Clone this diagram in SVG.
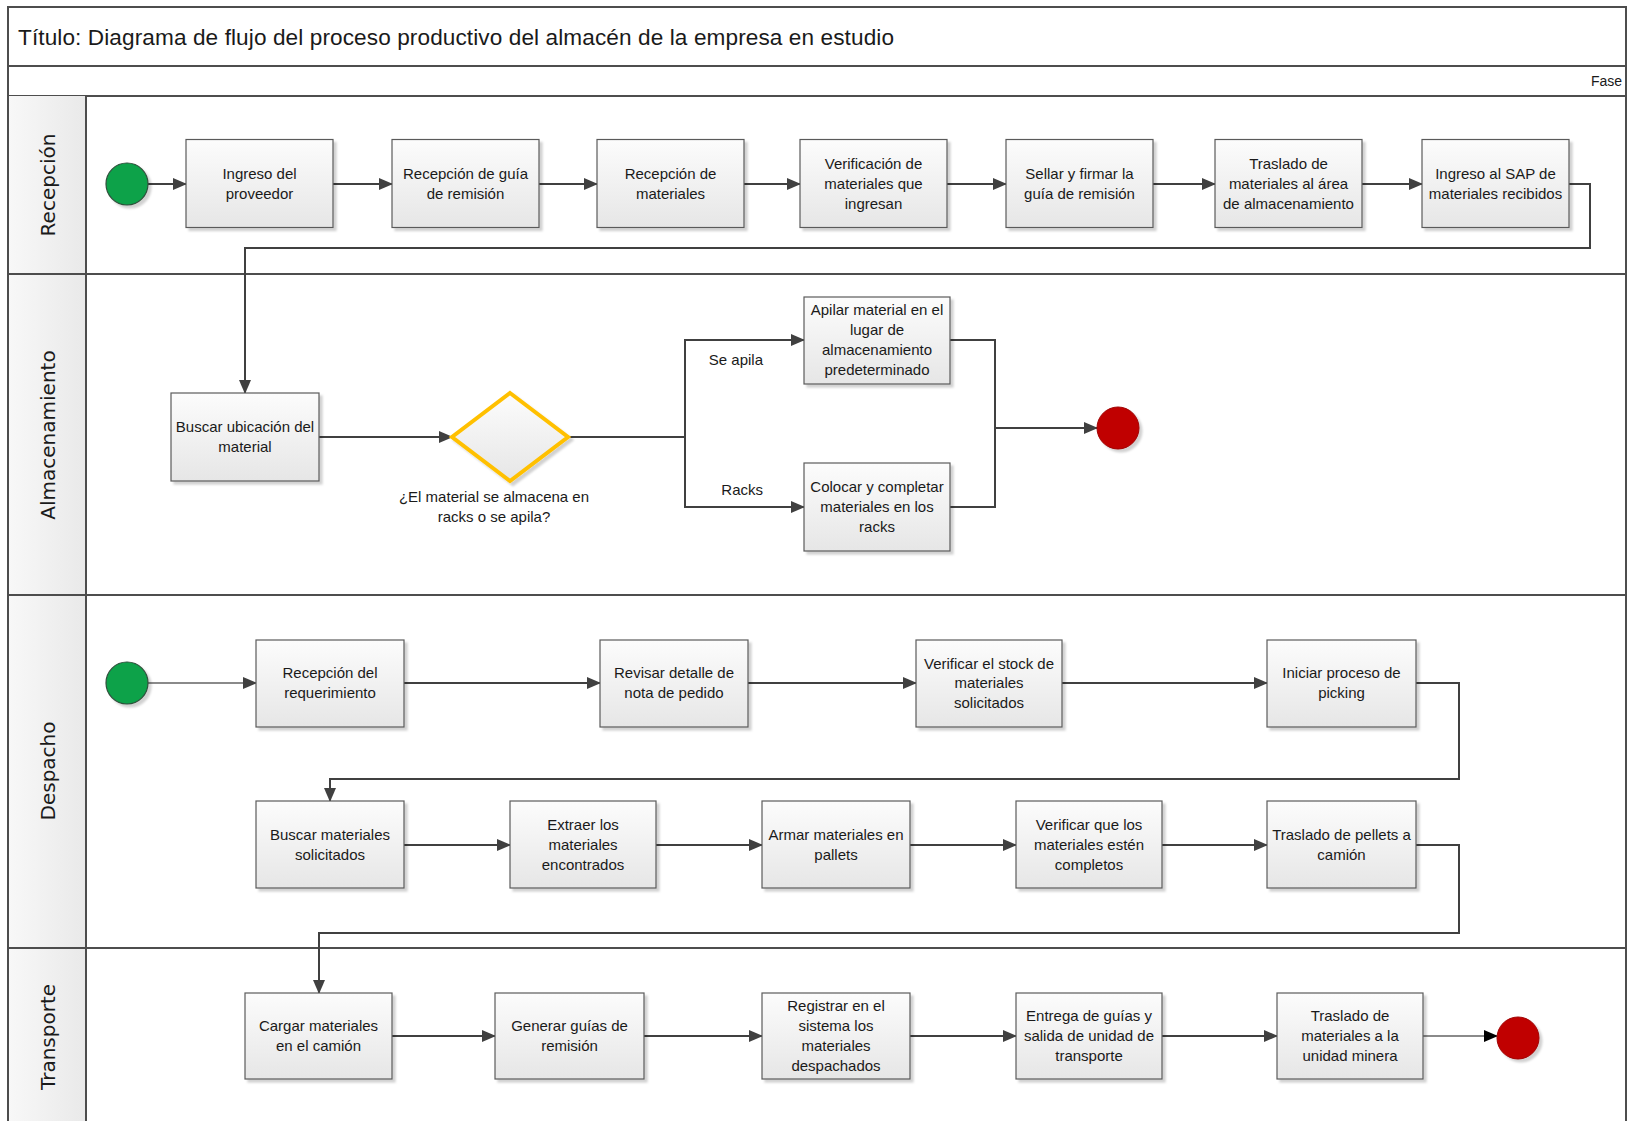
<svg xmlns="http://www.w3.org/2000/svg" width="1631" height="1121" viewBox="0 0 1631 1121">
<style>
.frame{fill:none;stroke:#4d4d4d;stroke-width:2}
.sep{stroke:#4d4d4d;stroke-width:2}
.box{fill:url(#gBox);stroke:#5a5a5a;stroke-width:1.2;filter:url(#sh)}
.t{font-family:"Liberation Sans",Arial,sans-serif;font-size:15px;fill:#1a1a1a;text-anchor:middle}
.lane{font-family:"DejaVu Sans",Verdana,sans-serif;font-size:20px;fill:#1a1a1a;text-anchor:middle}
.title{font-family:"Liberation Sans",Arial,sans-serif;font-size:22.6px;fill:#1a1a1a}
.c{fill:none;stroke:#404040;stroke-width:2}
.cl{fill:none;stroke:#8a8a8a;stroke-width:2}
</style>
<defs>
<linearGradient id="gBox" x1="0" y1="0" x2="0" y2="1"><stop offset="0" stop-color="#fcfcfc"/><stop offset="1" stop-color="#e6e6e6"/></linearGradient>
<linearGradient id="gBar" x1="0" y1="0" x2="0" y2="1"><stop offset="0" stop-color="#f9f9f9"/><stop offset="1" stop-color="#e9e9e9"/></linearGradient>
<linearGradient id="gHead" x1="0" y1="0" x2="1" y2="0"><stop offset="0" stop-color="#f8f8f8"/><stop offset="1" stop-color="#e9e9e9"/></linearGradient>
<filter id="sh" x="-10%" y="-10%" width="130%" height="130%"><feDropShadow dx="3" dy="3" stdDeviation="1.2" flood-color="#000" flood-opacity="0.18"/></filter>
<marker id="ar" markerUnits="userSpaceOnUse" markerWidth="14" markerHeight="12" refX="13" refY="6" orient="auto"><path d="M0,0 L14,6 L0,12 z" fill="#404040"/></marker>
<marker id="arb" markerUnits="userSpaceOnUse" markerWidth="14" markerHeight="12" refX="13" refY="6" orient="auto"><path d="M0,0 L14,6 L0,12 z" fill="#000"/></marker>
</defs>

<g id="frame">
<rect x="8" y="7" width="1618" height="59" fill="url(#gBar)" class="frame"/>
<rect x="8" y="66" width="1618" height="30" fill="url(#gBar)" class="frame"/>
<rect x="8" y="96" width="78" height="1030" fill="url(#gHead)"/>
<line x1="8" y1="7" x2="8" y2="1121" class="sep"/>
<line x1="1626" y1="7" x2="1626" y2="1121" class="sep"/>
<line x1="86" y1="96" x2="86" y2="1121" class="sep"/>
<line x1="8" y1="274" x2="1626" y2="274" class="sep"/>
<line x1="8" y1="595" x2="1626" y2="595" class="sep"/>
<line x1="8" y1="948" x2="1626" y2="948" class="sep"/>
<text x="18" y="45" class="title" textLength="876" lengthAdjust="spacing">Título: Diagrama de flujo del proceso productivo del almacén de la empresa en estudio</text>
<text x="1622" y="86" class="t" style="text-anchor:end;font-size:14px">Fase</text>
<text transform="translate(55,185) rotate(-90)" class="lane">Recepción</text>
<text transform="translate(55,435) rotate(-90)" class="lane">Almacenamiento</text>
<text transform="translate(55,771) rotate(-90)" class="lane">Despacho</text>
<text transform="translate(55,1037) rotate(-90)" class="lane">Transporte</text>
</g>

<g id="connectors">
<path class="c" marker-end="url(#ar)" d="M148,184 H186"/>
<path class="c" marker-end="url(#ar)" d="M333,184 H392"/>
<path class="c" marker-end="url(#ar)" d="M539,184 H597"/>
<path class="c" marker-end="url(#ar)" d="M744,184 H800"/>
<path class="c" marker-end="url(#ar)" d="M947,184 H1006"/>
<path class="c" marker-end="url(#ar)" d="M1153,184 H1215"/>
<path class="c" marker-end="url(#ar)" d="M1362,184 H1422"/>
<path class="c" marker-end="url(#ar)" d="M1569,184 H1590 V248 H245 V393"/>
<path class="c" marker-end="url(#ar)" d="M319,437 H452"/>
<path class="c" d="M568,437 H685"/>
<path class="c" marker-end="url(#ar)" d="M685,437 V340 H804"/>
<path class="c" marker-end="url(#ar)" d="M685,437 V507 H804"/>
<path class="c" d="M950,340 H995 V507 H950"/>
<path class="c" marker-end="url(#ar)" d="M995,428 H1097"/>
<path class="cl" marker-end="url(#ar)" d="M148,683 H256"/>
<path class="c" marker-end="url(#ar)" d="M404,683 H600"/>
<path class="c" marker-end="url(#ar)" d="M748,683 H916"/>
<path class="c" marker-end="url(#ar)" d="M1062,683 H1267"/>
<path class="c" marker-end="url(#ar)" d="M1416,683 H1459 V779 H330 V801"/>
<path class="c" marker-end="url(#ar)" d="M404,845 H510"/>
<path class="c" marker-end="url(#ar)" d="M656,845 H762"/>
<path class="c" marker-end="url(#ar)" d="M910,845 H1016"/>
<path class="c" marker-end="url(#ar)" d="M1162,845 H1267"/>
<path class="c" marker-end="url(#ar)" d="M1416,845 H1459 V933 H319 V993"/>
<path class="c" marker-end="url(#ar)" d="M392,1036 H495"/>
<path class="c" marker-end="url(#ar)" d="M644,1036 H762"/>
<path class="c" marker-end="url(#ar)" d="M910,1036 H1016"/>
<path class="c" marker-end="url(#ar)" d="M1162,1036 H1277"/>
<path class="cl" marker-end="url(#arb)" d="M1423,1036 H1497"/>
<text x="763" y="365" class="t" style="text-anchor:end">Se apila</text>
<text x="763" y="495" class="t" style="text-anchor:end">Racks</text>
</g>

<g id="start1"><circle cx="127" cy="184" r="21" fill="#07a24a" stroke="#2f4f3a" stroke-width="1.2" filter="url(#sh)"/></g>
<g id="n1"><rect class="box" x="186" y="139.5" width="147" height="88"/><text class="t" x="259.5" y="179">Ingreso del</text><text class="t" x="259.5" y="199">proveedor</text></g>
<g id="n2"><rect class="box" x="392" y="139.5" width="147" height="88"/><text class="t" x="465.5" y="179">Recepción de guía</text><text class="t" x="465.5" y="199">de remisión</text></g>
<g id="n3"><rect class="box" x="597" y="139.5" width="147" height="88"/><text class="t" x="670.5" y="179">Recepción de</text><text class="t" x="670.5" y="199">materiales</text></g>
<g id="n4"><rect class="box" x="800" y="139.5" width="147" height="88"/><text class="t" x="873.5" y="169">Verificación de</text><text class="t" x="873.5" y="189">materiales que</text><text class="t" x="873.5" y="209">ingresan</text></g>
<g id="n5"><rect class="box" x="1006" y="139.5" width="147" height="88"/><text class="t" x="1079.5" y="179">Sellar y firmar la</text><text class="t" x="1079.5" y="199">guía de remisión</text></g>
<g id="n6"><rect class="box" x="1215" y="139.5" width="147" height="88"/><text class="t" x="1288.5" y="169">Traslado de</text><text class="t" x="1288.5" y="189">materiales al área</text><text class="t" x="1288.5" y="209">de almacenamiento</text></g>
<g id="n7"><rect class="box" x="1422" y="139.5" width="147" height="88"/><text class="t" x="1495.5" y="179">Ingreso al SAP de</text><text class="t" x="1495.5" y="199">materiales recibidos</text></g>

<g id="a1"><rect class="box" x="171" y="393" width="148" height="88"/><text class="t" x="245" y="432">Buscar ubicación del</text><text class="t" x="245" y="452">material</text></g>
<g id="d1"><polygon points="510,393 568,437 510,481 452,437" fill="url(#gBox)" stroke="#ffc000" stroke-width="4" stroke-linejoin="miter" filter="url(#sh)"/><text class="t" x="494" y="502">¿El material se almacena en</text><text class="t" x="494" y="522">racks o se apila?</text></g>
<g id="a2"><rect class="box" x="804" y="297" width="146" height="87"/><text class="t" x="877" y="315">Apilar material en el</text><text class="t" x="877" y="335">lugar de</text><text class="t" x="877" y="355">almacenamiento</text><text class="t" x="877" y="375">predeterminado</text></g>
<g id="a3"><rect class="box" x="804" y="463" width="146" height="88"/><text class="t" x="877" y="492">Colocar y completar</text><text class="t" x="877" y="512">materiales en los</text><text class="t" x="877" y="532">racks</text></g>
<g id="end1"><circle cx="1118" cy="428" r="21" fill="#c00000" stroke="#a00000" stroke-width="1" filter="url(#sh)"/></g>

<g id="start2"><circle cx="127" cy="683" r="21" fill="#07a24a" stroke="#2f4f3a" stroke-width="1.2" filter="url(#sh)"/></g>
<g id="b1"><rect class="box" x="256" y="640" width="148" height="87"/><text class="t" x="330" y="678">Recepción del</text><text class="t" x="330" y="698">requerimiento</text></g>
<g id="b2"><rect class="box" x="600" y="640" width="148" height="87"/><text class="t" x="674" y="678">Revisar detalle de</text><text class="t" x="674" y="698">nota de pedido</text></g>
<g id="b3"><rect class="box" x="916" y="640" width="146" height="87"/><text class="t" x="989" y="669">Verificar el stock de</text><text class="t" x="989" y="688">materiales</text><text class="t" x="989" y="708">solicitados</text></g>
<g id="b4"><rect class="box" x="1267" y="640" width="149" height="87"/><text class="t" x="1341.5" y="678">Iniciar proceso de</text><text class="t" x="1341.5" y="698">picking</text></g>
<g id="b5"><rect class="box" x="256" y="801" width="148" height="87"/><text class="t" x="330" y="840">Buscar materiales</text><text class="t" x="330" y="860">solicitados</text></g>
<g id="b6"><rect class="box" x="510" y="801" width="146" height="87"/><text class="t" x="583" y="830">Extraer los</text><text class="t" x="583" y="850">materiales</text><text class="t" x="583" y="870">encontrados</text></g>
<g id="b7"><rect class="box" x="762" y="801" width="148" height="87"/><text class="t" x="836" y="840">Armar materiales en</text><text class="t" x="836" y="860">pallets</text></g>
<g id="b8"><rect class="box" x="1016" y="801" width="146" height="87"/><text class="t" x="1089" y="830">Verificar que los</text><text class="t" x="1089" y="850">materiales estén</text><text class="t" x="1089" y="870">completos</text></g>
<g id="b9"><rect class="box" x="1267" y="801" width="149" height="87"/><text class="t" x="1341.5" y="840">Traslado de pellets a</text><text class="t" x="1341.5" y="860">camión</text></g>

<g id="c1"><rect class="box" x="245" y="993" width="147" height="86"/><text class="t" x="318.5" y="1031">Cargar materiales</text><text class="t" x="318.5" y="1051">en el camión</text></g>
<g id="c2"><rect class="box" x="495" y="993" width="149" height="86"/><text class="t" x="569.5" y="1031">Generar guías de</text><text class="t" x="569.5" y="1051">remisión</text></g>
<g id="c3"><rect class="box" x="762" y="993" width="148" height="86"/><text class="t" x="836" y="1011">Registrar en el</text><text class="t" x="836" y="1031">sistema los</text><text class="t" x="836" y="1051">materiales</text><text class="t" x="836" y="1071">despachados</text></g>
<g id="c4"><rect class="box" x="1016" y="993" width="146" height="86"/><text class="t" x="1089" y="1021">Entrega de guías y</text><text class="t" x="1089" y="1041">salida de unidad de</text><text class="t" x="1089" y="1061">transporte</text></g>
<g id="c5"><rect class="box" x="1277" y="993" width="146" height="86"/><text class="t" x="1350" y="1021">Traslado de</text><text class="t" x="1350" y="1041">materiales a la</text><text class="t" x="1350" y="1061">unidad minera</text></g>
<g id="end2"><circle cx="1518" cy="1038" r="21" fill="#c00000" stroke="#a00000" stroke-width="1" filter="url(#sh)"/></g>
</svg>
